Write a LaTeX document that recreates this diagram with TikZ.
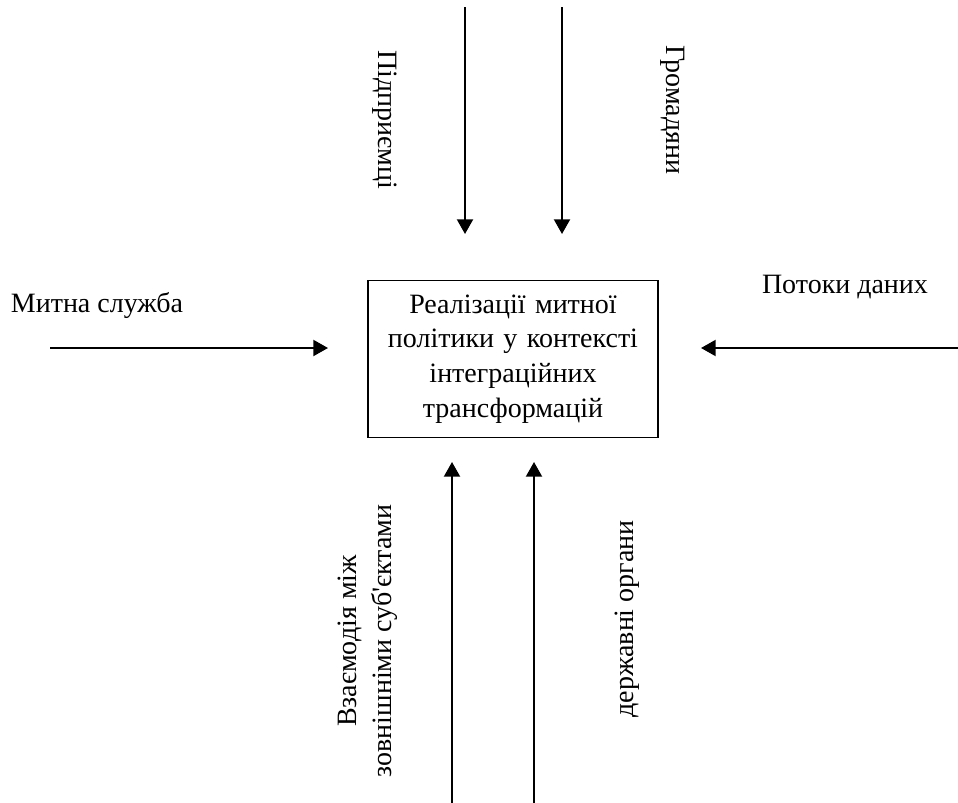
\documentclass[tikz,border=0pt]{standalone}
\usepackage{fontspec}
\setmainfont{Liberation Serif}
\usetikzlibrary{arrows.meta}
\begin{document}
\begin{tikzpicture}[x=0.75pt,y=-0.75pt,
  flow/.style={line width=1.5pt,-{Triangle[length=11pt,width=12pt]}},
  lbl/.style={font=\fontsize{21}{26}\selectfont,inner sep=0pt}]
\useasboundingbox (0,0) rectangle (958,803);
% central box
\node[draw,line width=1.2pt,minimum width=217.5pt,minimum height=117.75pt,
  text width=205pt,align=center,lbl] (box) at (513,359)
  {Реалізації митної\\політики у контексті\\інтеграційних\\трансформацій};
% arrow end points
\coordinate (tA) at (465,7);   \coordinate (tAe) at (465,234);
\coordinate (tB) at (562,7);   \coordinate (tBe) at (562,234);
\coordinate (lA) at (50,348);  \coordinate (lAe) at (328,348);
\coordinate (rA) at (958,348); \coordinate (rAe) at (701,348);
\coordinate (bA) at (452,803); \coordinate (bAe) at (452,462);
\coordinate (bB) at (534,803); \coordinate (bBe) at (534,462);
\draw[flow] (tA) -- (tAe);
\draw[flow] (tB) -- (tBe);
\draw[flow] (lA) -- (lAe);
\draw[flow] (rA) -- (rAe);
\draw[flow] (bA) -- (bAe);
\draw[flow] (bB) -- (bBe);
% labels
\node[lbl,rotate=-90] (pidpr) at (385,120) {Підприємці};
\node[lbl,rotate=-90] (hrom) at (673,110) {Громадяни};
\node[lbl] (mytna) at (97,305) {Митна служба};
\node[lbl] (potoky) at (845,287) {Потоки даних};
\node[lbl,rotate=90,align=center] (vzaem) at (368,641) {Взаємодія між\\зовнішніми суб\textquotesingle єктами};
\node[lbl,rotate=90] (derzh) at (627,619) {державні органи};
\end{tikzpicture}
\end{document}
